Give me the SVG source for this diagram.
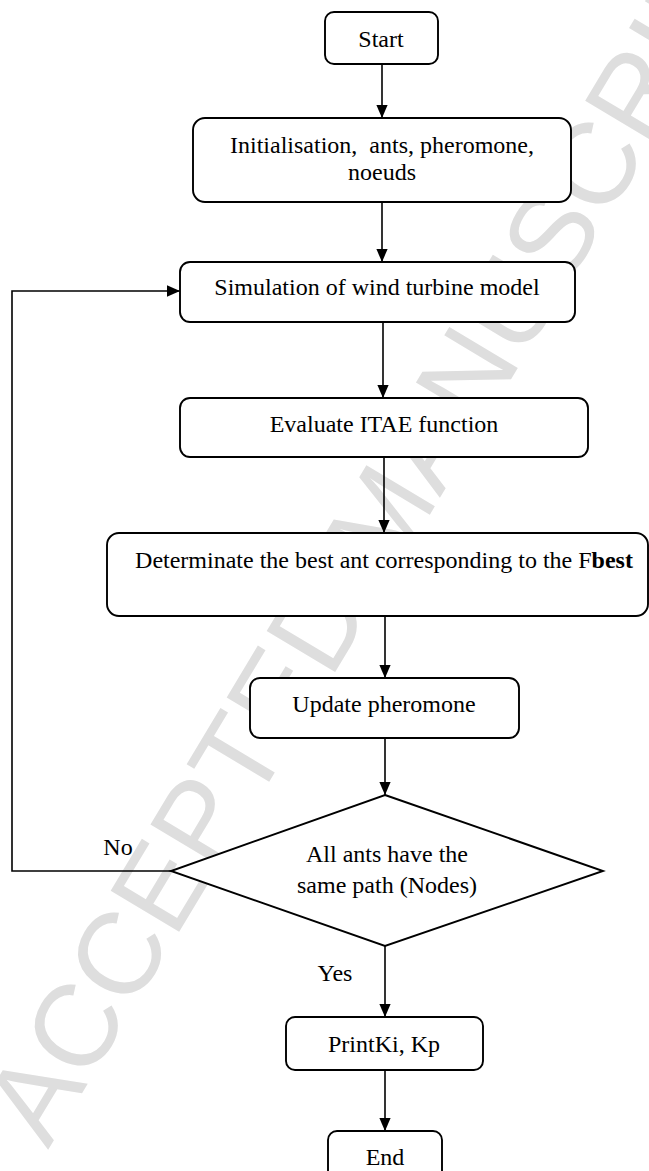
<svg xmlns="http://www.w3.org/2000/svg" width="649" height="1171" viewBox="0 0 649 1171">
<style>
.box{fill:#fff;stroke:#000;stroke-width:1.9}
.t{font-family:"Liberation Serif","Times New Roman",serif;font-size:24px;fill:#000;text-anchor:middle}
.c{fill:none;stroke:#000;stroke-width:1.6}
.wm{font-family:"Liberation Sans",Arial,sans-serif;font-size:116px;fill:#dedede}
</style>
<defs>
<marker id="ah" markerWidth="13" markerHeight="15" refX="15" refY="6.5" orient="auto" markerUnits="userSpaceOnUse" viewBox="0 0 15 13">
<path d="M0,0 L15,6.5 L0,13 Z" fill="#000"/>
</marker>
</defs>
<rect width="649" height="1171" fill="#fff"/>
<text class="wm" transform="translate(48,1150) rotate(-59)">ACCEPTED MANUSCRIPT</text>
<g id="connectors">
<line class="c" x1="382" y1="64" x2="382" y2="118" marker-end="url(#ah)"/>
<line class="c" x1="382" y1="202" x2="382" y2="262" marker-end="url(#ah)"/>
<line class="c" x1="383" y1="322" x2="383" y2="398" marker-end="url(#ah)"/>
<line class="c" x1="384" y1="457" x2="384" y2="533" marker-end="url(#ah)"/>
<line class="c" x1="385" y1="616" x2="385" y2="678" marker-end="url(#ah)"/>
<line class="c" x1="385" y1="738" x2="385" y2="795" marker-end="url(#ah)"/>
<polyline class="c" points="171,871 12,871 12,291 180,291" marker-end="url(#ah)"/>
<line class="c" x1="385" y1="946" x2="385" y2="1017" marker-end="url(#ah)"/>
<line class="c" x1="385" y1="1070" x2="385" y2="1131" marker-end="url(#ah)"/>
<text class="t" x="118" y="855">No</text>
<text class="t" x="335" y="981">Yes</text>
</g>
<g id="start"><rect class="box" x="325" y="12" width="113" height="52" rx="9"/><text class="t" x="381" y="47">Start</text></g>
<g id="init"><rect class="box" x="193" y="118" width="378" height="84" rx="12"/><text class="t" x="382" y="153" xml:space="preserve">Initialisation,  ants, pheromone,</text><text class="t" x="382" y="180">noeuds</text></g>
<g id="sim"><rect class="box" x="180" y="262" width="395" height="60" rx="10"/><text class="t" x="377" y="295">Simulation of wind turbine model</text></g>
<g id="eval"><rect class="box" x="180" y="398" width="408" height="59" rx="10"/><text class="t" x="384" y="432">Evaluate ITAE function</text></g>
<g id="determ"><rect class="box" x="107" y="533" width="541" height="83" rx="12"/><text class="t" x="384" y="568">Determinate the best ant corresponding to the F<tspan font-weight="bold">best</tspan></text></g>
<g id="update"><rect class="box" x="250" y="678" width="269" height="60" rx="10"/><text class="t" x="384" y="712">Update pheromone</text></g>
<g id="decision"><polygon class="box" points="385,795 603,871 385,946 171,871"/><text class="t" x="387" y="862">All ants have the</text><text class="t" x="387" y="893">same path (Nodes)</text></g>
<g id="print"><rect class="box" x="286" y="1017" width="197" height="53" rx="9"/><text class="t" x="384" y="1052">PrintKi, Kp</text></g>
<g id="end"><rect class="box" x="328" y="1131" width="114" height="56" rx="9"/><text class="t" x="385" y="1165">End</text></g>
</svg>
